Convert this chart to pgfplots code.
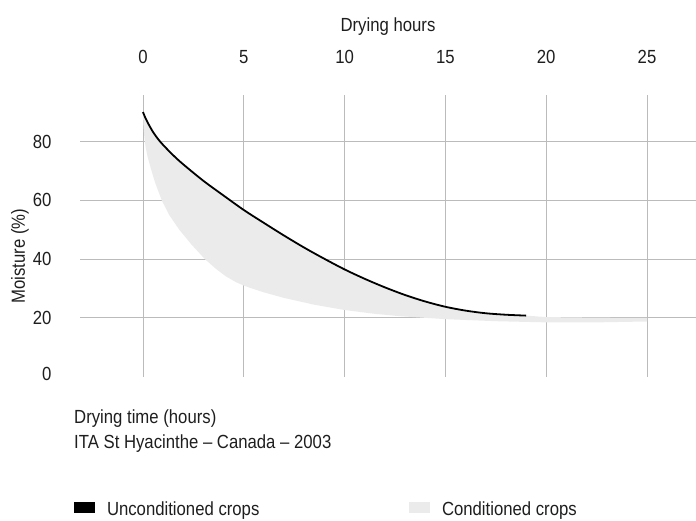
\documentclass[border=0pt]{standalone}
\usepackage{fontspec}
\setmainfont{Liberation Sans}[FakeStretch=0.88]
\usepackage{pgfplots}
\pgfplotsset{compat=1.18}
\definecolor{gridc}{HTML}{BBBBBB}
\definecolor{bandc}{HTML}{EBEBEB}
\definecolor{txt}{HTML}{1E1E1E}
\begin{document}
\fontsize{19pt}{23pt}\selectfont
\begin{tikzpicture}
\begin{axis}[
  scale only axis,
  width=616pt, height=281.8pt,
  xmin=-3.125, xmax=27.43,
  ymin=0, ymax=95.8,
  axis line style={draw=none},
  major tick length=0pt,
  xtick={0,5,10,15,20,25},
  ytick={20,40,60,80},
  extra y ticks={0},
  extra y tick style={grid=none, yticklabel style={yshift=3pt}},
  grid=major,
  major grid style={gridc, line width=1pt},
  xticklabel pos=upper,
  /pgf/number format/assume math mode=true,
  tick label style={text=txt},
  xticklabel style={yshift=25pt},
  yticklabel style={xshift=-22pt},
  xlabel={Drying hours},
  xlabel style={text=txt, yshift=2pt},
  ylabel={Moisture (\%)},
  ylabel style={text=txt, at={(axis description cs:-0.0974,0.4287)}, anchor=center},
  legend columns=2,
  legend style={draw=none, fill=none, text=txt,
    at={(axis description cs:-0.00974,-0.474)}, anchor=west,
    inner sep=0pt, outer sep=0pt,
    nodes={inner sep=0pt, anchor=west},
    /tikz/every odd column/.append style={column sep=12pt}},
  legend image code/.code={\fill[draw=none,#1] (0pt,-2.6pt) rectangle (21pt,7.9pt);},
  clip=false,
]
% conditioned band
\addplot[draw=none, fill=bandc, forget plot] coordinates {
 (0,90) (0.1,88.3) (0.25,86.2) (0.5,83.2) (0.75,80.8) (1,78.8) (1.5,75.3)
 (2,72.2) (3,66.6) (4,61.6) (5,56.7) (6,52.3) (7,48.0) (8,43.9) (9,40.1)
 (10,36.5) (11,33.3) (12,30.4) (13,27.8) (14,25.6) (15,23.8) (16,22.5)
 (17,21.6) (18,21.1) (19,20.8) (20,20.3) (22.5,20.1) (25,20.0)
 (25,18.8) (22.5,18.5) (20,18.5) (17.5,18.9) (15,19.6) (12.75,20.6) (11.5,21.4)
 (10,22.7) (8.5,24.5) (7,26.8) (6,28.7) (5.5,29.8) (5,31.0) (4.6,32.2) (4.1,34.2)
 (3.6,36.8) (3.07,40) (2.4,45) (1.8,50) (1.3,55) (0.93,60) (0.6,66) (0.38,71)
 (0.22,75) (0.12,78.5) (0.06,82) (0.02,86) (0,89.5)
} -- cycle;
% unconditioned curve
\addplot[black, line width=1.8pt, smooth, tension=0.5, forget plot] coordinates {
 (0,90) (0.1,88.3) (0.25,86.2) (0.5,83.2) (0.75,80.8) (1,78.8) (1.5,75.3)
 (2,72.2) (3,66.6) (4,61.6) (5,56.7) (6,52.3) (7,48.0) (8,43.9) (9,40.1)
 (10,36.5) (11,33.3) (12,30.4) (13,27.8) (14,25.6) (15,23.8) (16,22.5)
 (17,21.6) (18,21.1) (19,20.8)
};
\addlegendimage{fill=black, draw=none}
\addlegendentry{\makebox[302pt][l]{Unconditioned crops}}
\addlegendimage{fill=bandc, draw=none}
\addlegendentry{Conditioned crops}
\node[anchor=base west, text=txt, inner sep=0pt] at (axis description cs:-0.00974,-0.1675) {Drying time (hours)};
\node[anchor=base west, text=txt, inner sep=0pt] at (axis description cs:-0.00974,-0.2527) {ITA St Hyacinthe – Canada – 2003};
\end{axis}
\pgfresetboundingbox
\path (current axis.south west) ++(-80pt,-144.2pt) rectangle ++(696pt,521pt);
\end{tikzpicture}
\end{document}
